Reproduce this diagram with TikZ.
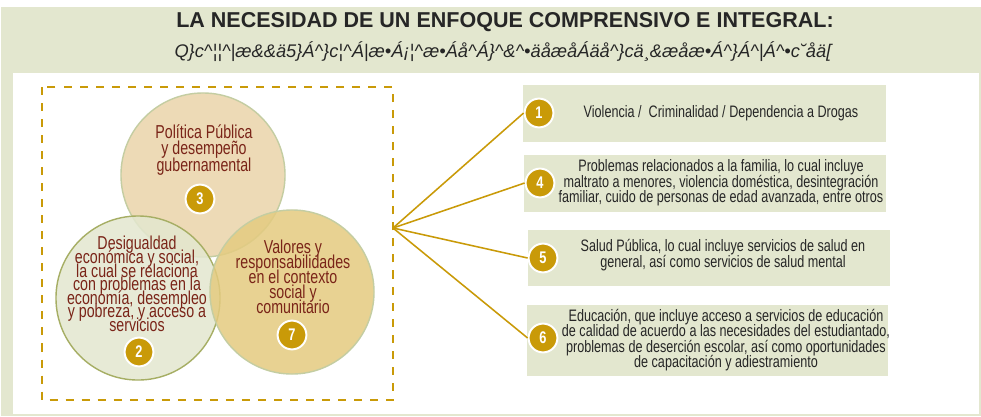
\documentclass[tikz,border=0pt]{standalone}
\usepackage{fontspec}
\setmainfont{Liberation Sans}
\newfontfamily\condfont[FakeStretch=0.76]{Liberation Sans}
\usetikzlibrary{positioning}

\definecolor{sagebg}{HTML}{E3E7CF}
\definecolor{ochre}{HTML}{C99A08}
\definecolor{maroontext}{HTML}{7A2418}
\definecolor{tanfill}{HTML}{EBD4AA}
\definecolor{goldfill}{HTML}{E4CB80}
\definecolor{olivering}{HTML}{A6AE64}
\definecolor{palering}{HTML}{C4CDA2}
\definecolor{inktext}{HTML}{262626}

\begin{document}
\begin{tikzpicture}[x=0.025cm,y=-0.025cm,
  badge/.style={circle,fill=ochre,draw=white,line width=1.4pt,inner sep=0pt,minimum size=0.72cm,text=white,font=\condfont\bfseries\fontsize{12}{12}\selectfont},
  boxtext/.style={align=center,text=inktext,inner sep=0pt,font=\condfont\fontsize{11.8}{11}\selectfont\setlength{\lineskiplimit}{-20pt}},
  circtext/.style={align=center,text=maroontext,inner sep=0pt,font=\condfont\fontsize{13.3}{11.7}\selectfont\setlength{\lineskiplimit}{-20pt}},
  bubble/.style={circle,minimum size=4.1cm,line width=1pt,fill opacity=0.85,inner sep=0pt},
  spoke/.style={draw=ochre,line width=1.1pt}]
\useasboundingbox (0,0) rectangle (981,416);
\fill[sagebg] (1,7) rectangle (981,416);
\fill[white] (13,73) rectangle (979,414);

% title
\node[font=\bfseries\fontsize{15.3}{15}\selectfont,text=inktext,anchor=base] (title) at (505,27) {LA NECESIDAD DE UN ENFOQUE COMPRENSIVO E INTEGRAL:};
\node[font=\itshape\fontsize{13}{13}\selectfont,text=inktext] (subtitle) at (503,52) {Q\}c\textasciicircum{}¦¦\textasciicircum{}|æ\&\&ä5\}Á\textasciicircum{}\}c¦\textasciicircum{}Á|æ•Á¡¦\textasciicircum{}æ•Áå\textasciicircum{}Á\}\textasciicircum{}\&\textasciicircum{}•äåæåÁäå\textasciicircum{}\}cä¸\&æåæ•Á\textasciicircum{}\}Á\textasciicircum{}|Á\textasciicircum{}•c˘åä[};

% left frame with the three circles
\draw[ochre,line width=2pt,dash pattern=on 5.7pt off 5.7pt] (42,87) rectangle (393,400);
\node[bubble,fill=tanfill,draw=palering] (c3) at (203,175) {};
\node[bubble,fill=sagebg,draw=olivering] (c2) at (138,298) {};
\node[bubble,fill=goldfill,draw=palering] (c7) at (292,292) {};

\node[circtext] (t3) at (204,150) {Política Pública\\y desempeño\\gubernamental};
\node[circtext,font=\condfont\fontsize{13.3}{9.7}\selectfont\setlength{\lineskiplimit}{-20pt}] (t2) at (137,284) {Desigualdad\\económica y social,\\la cual se relaciona\\con problemas en la\\economía, desempleo\\y pobreza, y acceso a\\servicios};
\node[circtext,font=\condfont\fontsize{13.3}{10.6}\selectfont\setlength{\lineskiplimit}{-20pt}] (t7) at (293,277) {Valores y\\responsabilidades\\en el contexto\\social y\\comunitario};

\node[badge] (n3) at (200,199) {3};
\node[badge] (n2) at (139,352) {2};
\node[badge] (n7) at (292,335) {7};

% right panels
\fill[sagebg] (523,85) rectangle (886,142);
\fill[sagebg] (524,155) rectangle (886,212);
\fill[sagebg] (528,230) rectangle (890,286);
\fill[sagebg] (527,305) rectangle (888,376);

\node[boxtext] (t1) at (721,113) {Violencia /\ \ Criminalidad / Dependencia a Drogas};
\node[boxtext] (t4) at (721,183) {Problemas relacionados a la familia, lo cual incluye\\maltrato a menores, violencia doméstica, desintegración\\familiar, cuido de personas de edad avanzada, entre otros};
\node[boxtext] (t5) at (723,255) {Salud Pública, lo cual incluye servicios de salud en\\general, así como servicios de salud mental};
\node[boxtext] (t6) at (726,340) {Educación, que incluye acceso a servicios de educación\\de calidad de acuerdo a las necesidades del estudiantado,\\problemas de deserción escolar, así como oportunidades\\de capacitación y adiestramiento};

\node[badge] (n1) at (539,113) {1};
\node[badge] (n4) at (540,183) {4};
\node[badge] (n5) at (543,258) {5};
\node[badge] (n6) at (543,338) {6};

% spokes
\coordinate (fan) at (393,228);
\draw[spoke] (fan) -- (n1.west);
\draw[spoke] (fan) -- (n4.west);
\draw[spoke] (fan) -- (n5.west);
\draw[spoke] (fan) -- (n6.west);

\end{tikzpicture}
\end{document}
